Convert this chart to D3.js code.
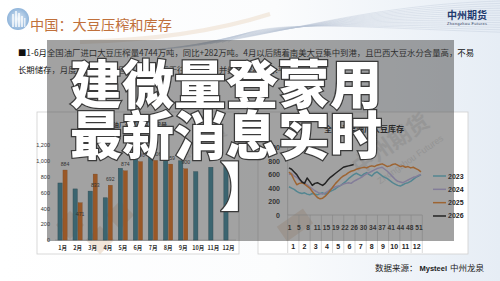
<!DOCTYPE html>
<html><head><meta charset="utf-8">
<script src="https://cdn.jsdelivr.net/npm/d3@7"></script>
<style>html,body{margin:0;padding:0;background:#fff;overflow:hidden}svg{display:block}</style>
</head><body>
<svg id="c" width="500" height="281"></svg>
<script>
// ---------- data ----------
const months = ["1月","2月","3月","4月","5月","6月","7月","8月","9月","10月","11月","12月"];
const crushPrev = [720,645,617,533,905,1047,1060,1020,1000,862,918,934];
const crushCurr = [884,471,833,692,874,990,1006,959,900];
const crushTicks = [0,200,400,600,800,1000,1200];
const labelInside = ["2月","3月"];

const invYears = ["2023","2024","2025","2026"];
const inv2023 = [420,400,380,350,330,320,330,310,300,320,310,300,320,330,310,330,350,370,390,420,440,470,500,540,570,600,620,600,580,610,630,600,580,620,640,610,580,560,540,510,480,460,440,430,450,470,480,500,530,560,580,600];
const inv2024 = [600,620,580,560,520,500,470,450,420,390,360,340,320,310,330,350,380,400,420,430,440,460,470,480,470,500,520,540,560,590,610,630,650,670,690,700,710,680,650,610,570,530,500,490,480,500,520,540,560,570,590,600];
const inv2025 = [640,600,520,450,470,480,460,430,400,350,300,260,240,250,280,320,370,420,470,510,550,580,600,630,650,660,680,690,700,710,700,720,730,720,740,750,760,740,720,730,750,760,740,720,730,710,720,700,710,690,670,640];
const inv2026 = [700,680,640,600,540,490,470,550,500,440,470,480,460,440,470,520,560,590,620,650,680,710,720,730,740,750];
const invTicks = [0,200,400,600,800,1000];
const weekTicks = [1,5,8,11,15,19,22,26,30,34,37,41,44,48,51];
const monthNums = ["1","2","3","4","5","6","7","8","9","10","11","12"];

const headline = "中国：大豆压榨和库存";
const para1 = "■1-6月全国油厂进口大豆压榨量4744万吨，同比+282万吨。4月以后随着南美大豆集中到港，且巴西大豆水分含量高，不易";
const para2 = "长期储存，月度压榨季节性回落，但仍高于往年同期，并维持较高的水平。";
const overlayLines = ["建微量登蒙用","最新消息实时","】"];

// ---------- setup ----------
const svg = d3.select("#c");
const CJK = "'Noto Sans CJK SC','Noto Sans',sans-serif";
const NUM = "'Liberation Sans','Noto Sans CJK SC',sans-serif";
const defs = svg.append("defs");

const bg = defs.append("linearGradient").attr("id","bg").attr("x1",0).attr("x2",1).attr("y1",0).attr("y2",0);
bg.append("stop").attr("offset","0").attr("stop-color","#ffffff");
bg.append("stop").attr("offset","0.55").attr("stop-color","#fbfcfd");
bg.append("stop").attr("offset","1").attr("stop-color","#e6edf5");
svg.append("rect").attr("width",500).attr("height",281).attr("fill","url(#bg)");

// swooshes
const sw = svg.append("g").attr("fill","none");
d3.range(14).forEach(i=>{
  sw.append("path")
    .attr("d",`M${150+i*6},${50-i*0.6} C${260},${44-i*2} ${340},${6+i*1.6} ${500},${1+i*2.4}`)
    .attr("stroke","#b7c3d3").attr("stroke-width",0.5).attr("opacity",0.7);
});
sw.append("path").attr("d","M80,42 C160,40 220,30 270,14").attr("stroke","#ecd9c6").attr("stroke-width",4).attr("opacity",0.5);

// logo circle
const lg = defs.append("radialGradient").attr("id","lg");
lg.append("stop").attr("offset","0").attr("stop-color","#e4eef8");
lg.append("stop").attr("offset","1").attr("stop-color","#8fb4da");
svg.append("circle").attr("cx",18).attr("cy",19).attr("r",11).attr("fill","url(#lg)");
[[12,14,2,13],[15,11,2,16],[18,13,2,14],[21,16,2,11],[24,18,1.5,9]].forEach(r=>{
  svg.append("rect").attr("x",r[0]).attr("y",r[1]).attr("width",r[2]).attr("height",r[3]).attr("fill","#ffffff").attr("opacity",0.7);
});

svg.append("text").attr("x",30).attr("y",29.5).text(headline)
  .attr("font-family",CJK).attr("font-size",14.2).attr("fill","#c0703b");

svg.append("text").attr("x",447).attr("y",18.8).text("中州期货")
  .attr("font-family",CJK).attr("font-size",10).attr("font-weight","bold").attr("fill","#1f3a6e");
svg.append("text").attr("x",447).attr("y",25).text("Zhongzhou Futures")
  .attr("font-family",NUM).attr("font-size",3.9).attr("fill","#33415e").attr("textLength",40);

svg.append("text").attr("x",18).attr("y",56.2).text(para1)
  .attr("font-family",CJK).attr("font-size",8.4).attr("fill","#111");
svg.append("text").attr("x",18).attr("y",73.2).text(para2)
  .attr("font-family",CJK).attr("font-size",8.4).attr("fill","#111");

// ---------- chart boxes ----------
svg.append("rect").attr("x",37).attr("y",112).attr("width",202).attr("height",142)
  .attr("fill","#fff").attr("stroke","#cfcfcf").attr("stroke-width",0.8);
svg.append("rect").attr("x",258).attr("y",112).attr("width",210).attr("height",142)
  .attr("fill","#fff").attr("stroke","#cfcfcf").attr("stroke-width",0.8);

// watermarks
const wm = svg.append("g");
[[70,225],[100,240],[120,215]].forEach(p=>{
  wm.append("rect").attr("x",-10).attr("y",-10).attr("width",20).attr("height",20)
    .attr("transform",`translate(${p[0]},${p[1]}) rotate(45)`).attr("fill","#d9b592").attr("opacity",0.35);
});
wm.append("rect").attr("x",-16).attr("y",-9).attr("width",32).attr("height",18)
  .attr("transform","translate(295,225) rotate(-35)").attr("fill","#d9b592").attr("opacity",0.35);
wm.append("text").attr("transform","translate(395,150) rotate(-35)").text("中州期货")
  .attr("font-family",CJK).attr("font-size",22).attr("font-weight","bold").attr("fill","#cfcfcf").attr("opacity",0.5).attr("text-anchor","middle");
wm.append("text").attr("transform","translate(412,162) rotate(-35)").text("Zhongzhou Futures")
  .attr("font-family",NUM).attr("font-size",9).attr("fill","#cfcfcf").attr("opacity",0.6).attr("text-anchor","middle");
wm.append("text").attr("transform","translate(205,150) rotate(-35)").text("中州期货")
  .attr("font-family",CJK).attr("font-size",14).attr("font-weight","bold").attr("fill","#d5d5d5").attr("opacity",0.5).attr("text-anchor","middle");

// ---------- left bar chart ----------
const L = svg.append("g");
const x0 = d3.scaleBand().domain(months).range([55,236]);
const x1 = d3.scaleBand().domain(["prev","curr"]).range([0,x0.bandwidth()]).paddingInner(0.16).paddingOuter(0.588);
const yL = d3.scaleLinear().domain([0,1200]).range([240,145]);

L.append("text").attr("x",134).attr("y",127).attr("text-anchor","middle").text("全国油厂进口大豆压榨量")
  .attr("font-family",CJK).attr("font-size",6).attr("font-weight","bold").attr("fill","#222");

const yAxL = L.append("g").attr("transform","translate(53,0)")
  .call(d3.axisLeft(yL).tickValues(crushTicks).tickSize(0).tickPadding(3).tickFormat(d3.format(",")));
yAxL.select(".domain").remove();
yAxL.selectAll("text").attr("font-family",NUM).attr("font-size",5.5).attr("fill","#333");
L.append("line").attr("x1",55).attr("x2",236).attr("y1",240).attr("y2",240).attr("stroke","#bfbfbf").attr("stroke-width",0.6);
const xAxL = L.append("g").attr("transform","translate(0,240)")
  .call(d3.axisBottom(x0).tickSize(0).tickPadding(6));
xAxL.select(".domain").remove();
xAxL.selectAll("text").attr("font-family",CJK).attr("font-size",5.5).attr("font-weight","bold").attr("fill","#333");

L.selectAll(".bp").data(crushPrev).join("rect")
  .attr("x",(d,i)=>x0(months[i])+x1("prev")).attr("width",x1.bandwidth())
  .attr("y",d=>yL(d)).attr("height",d=>yL(0)-yL(d))
  .attr("fill","#31849b").attr("stroke","#1d5563").attr("stroke-width",0.5);
L.selectAll(".bc").data(crushCurr).join("rect")
  .attr("x",(d,i)=>x0(months[i])+x1("curr")).attr("width",x1.bandwidth())
  .attr("y",d=>yL(d)).attr("height",d=>yL(0)-yL(d))
  .attr("fill","#ec6a08").attr("stroke","#a24800").attr("stroke-width",0.3);
L.selectAll(".lb").data(crushCurr).join("text")
  .attr("x",(d,i)=>x0(months[i])+x1("curr")+x1.bandwidth()/2)
  .attr("y",(d,i)=>labelInside.includes(months[i]) ? yL(d)+13 : yL(d)-4.5)
  .attr("text-anchor","middle").text(d=>d)
  .attr("font-family",NUM).attr("font-size",5.2).attr("fill","#222");

// ---------- right line chart ----------
const R = svg.append("g");
const xW = d3.scaleLinear().domain([0.5,52.5]).range([287.7,422.3]);
const xM = d3.scaleBand().domain(monthNums).range([287.7,422.3]);
const xT = d3.scalePoint().domain(weekTicks).range([289.5,419]);
const yR = d3.scaleLinear().domain([0,1000]).range([215,147.7]);

R.append("text").attr("x",364).attr("y",132).attr("text-anchor","middle").text("全国主要油厂大豆库存")
  .attr("font-family",CJK).attr("font-size",8).attr("font-weight","bold").attr("fill","#111");

const yAxR = R.append("g").attr("transform","translate(283,0)")
  .call(d3.axisLeft(yR).tickValues(invTicks).tickSize(0).tickPadding(3));
yAxR.select(".domain").remove();
yAxR.selectAll("text").attr("font-family",NUM).attr("font-size",7).attr("font-weight","bold").attr("fill","#222");
R.append("line").attr("x1",287.7).attr("x2",287.7).attr("y1",147.7).attr("y2",215).attr("stroke","#bfbfbf").attr("stroke-width",0.7);
R.append("line").attr("x1",287.7).attr("x2",422.3).attr("y1",215).attr("y2",215).attr("stroke","#bfbfbf").attr("stroke-width",0.7);
const bounds = monthNums.map(m=>xM(m)).concat([xM.range()[1]]);
R.selectAll(".sep").data(bounds).join("line")
  .attr("x1",d=>d).attr("x2",d=>d).attr("y1",215).attr("y2",253)
  .attr("stroke","#c8c8c8").attr("stroke-width",0.7);
R.selectAll(".wk").data(weekTicks).join("text")
  .attr("x",d=>xT(d)).attr("y",229.5).attr("text-anchor","middle").text(d=>d)
  .attr("font-family",NUM).attr("font-size",6.6).attr("font-weight","bold").attr("fill","#222");
R.selectAll(".mn").data(monthNums).join("text")
  .attr("x",d=>xM(d)+xM.bandwidth()/2).attr("y",248.5).attr("text-anchor","middle").text(d=>d)
  .attr("font-family",NUM).attr("font-size",7).attr("font-weight","bold").attr("fill","#222");

const lineColors = {"2023":"#62c6dc","2024":"#c0b4ec","2025":"#f5821f","2026":"#000000"};
const series = {"2023":inv2023,"2024":inv2024,"2025":inv2025,"2026":inv2026};
const lineGen = d3.line().x((d,i)=>xW(i+1)).y(d=>yR(d));
invYears.forEach(yr=>{
  R.append("path").datum(series[yr]).attr("d",lineGen).attr("fill","none")
    .attr("stroke",lineColors[yr]).attr("stroke-width",1.5).attr("stroke-linejoin","round");
});
invYears.forEach((yr,i)=>{
  const yy = 176 + i*13.33;
  R.append("line").attr("x1",433).attr("x2",446).attr("y1",yy).attr("y2",yy).attr("stroke",lineColors[yr]).attr("stroke-width",1.5);
  R.append("text").attr("x",448).attr("y",yy+2.5).text(yr)
    .attr("font-family",NUM).attr("font-size",7).attr("font-weight","bold").attr("fill","#222");
});

// footer
const ft = svg.append("text").attr("x",375).attr("y",271.2).attr("font-family",CJK).attr("font-size",8.5).attr("fill","#222");
ft.append("tspan").text("数据来源：");
ft.append("tspan").attr("font-family",NUM).attr("font-weight","bold").attr("font-size",7.5).attr("dx",2).text("Mysteel");
ft.append("tspan").attr("dx",3).text("中州龙泉");

// ---------- overlay ----------
svg.append("rect").attr("x",47).attr("y",40).attr("width",407).attr("height",201)
  .attr("fill","rgb(70,70,70)").attr("opacity",0.5);
const ov = svg.append("g").attr("font-family",CJK).attr("font-size",52).attr("font-weight",900)
  .attr("fill","#fff").attr("stroke","#3a3a3a").attr("stroke-width",2.5).attr("paint-order","stroke");
ov.append("text").attr("x",70).attr("y",104).text(overlayLines[0]);
ov.append("text").attr("x",70).attr("y",155).text(overlayLines[1]);
ov.append("text").attr("x",220).attr("y",206).text(overlayLines[2]);
</script>
</body></html>
